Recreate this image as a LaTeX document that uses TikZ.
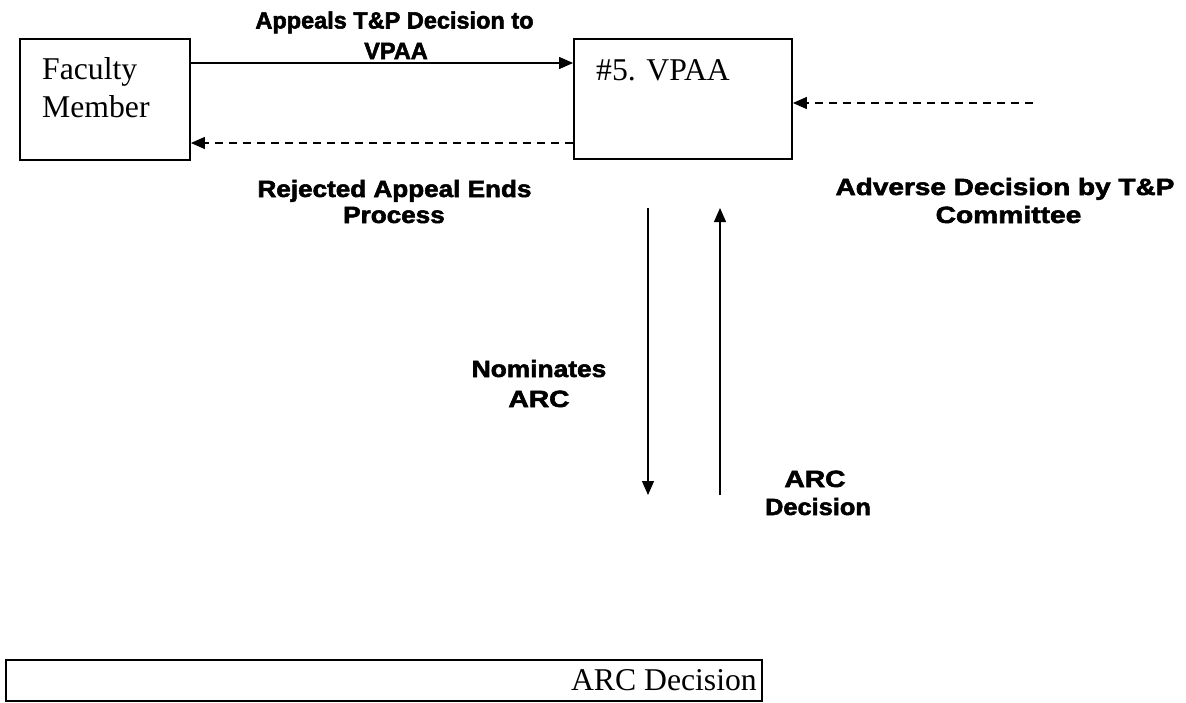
\documentclass[tikz,border=0pt]{standalone}
\usepackage{fontspec}
\setmainfont{Liberation Serif}
\newfontfamily\lblfont[BoldFeatures={FakeBold=2.2}]{Liberation Sans}
\usetikzlibrary{arrows.meta}
\newcommand{\xs}[2]{\scalebox{#1}[1]{#2}}
\begin{document}
\begin{tikzpicture}[x=1pt,y=-1pt,
  boxnode/.style={draw=black, line width=1.8pt, rectangle, inner sep=0pt},
  boxtext/.style={font=\fontsize{31.7}{38}\selectfont, inner sep=0pt, anchor=base west},
  lbl/.style={font=\lblfont\bfseries\fontsize{23.5}{28}\selectfont, inner sep=0pt, anchor=base},
  conn/.style={line width=1.2pt, -{Triangle[length=14pt,width=12pt]}},
  dconn/.style={conn, dash pattern=on 8pt off 6pt}]
\useasboundingbox (0,0) rectangle (1186,702);
% boxes
\node[boxnode, minimum width=170pt, minimum height=121pt] (fac) at (105,99.5) {};
\node[boxnode, minimum width=218pt, minimum height=120pt] (vpaa) at (683,99) {};
\node[boxnode, minimum width=756pt, minimum height=41pt] (arcbox) at (384,680.5) {};
% box texts
\node[boxtext] (factxt1) at (42,79) {Faculty};
\node[boxtext] (factxt2) at (42,117) {Member};
\node[boxtext] (vpaatxt) at (596,80) {\#5. VPAA};
\node[boxtext, anchor=base east] (arctxt) at (757,690) {ARC Decision};
% helper coordinates
\coordinate (r1) at (0,63);
\coordinate (r2) at (0,143);
\coordinate (r3) at (0,103);
\coordinate (advstart) at (1033,103);
\coordinate (ntop) at (648,208);
\coordinate (nbot) at (648,495);
\coordinate (dtop) at (720,208);
\coordinate (dbot) at (720,495);
% connectors
\draw[conn] (fac.east |- r1) -- (vpaa.west |- r1);
\draw[dconn] (vpaa.west |- r2) -- (fac.east |- r2);
\draw[dconn] (advstart) -- (vpaa.east |- r3);
\draw[conn] (ntop) -- (nbot);
\draw[conn] (dbot) -- (dtop);
% labels
\node[lbl] (l1a) at (394.5,28.5) {\xs{1.0}{Appeals T\&P Decision to}};
\node[lbl] (l1b) at (396,59) {\xs{1.0}{VPAA}};
\node[lbl] (l2a) at (394.5,197) {\xs{1.11}{Rejected Appeal Ends}};
\node[lbl] (l2b) at (394,223) {\xs{1.11}{Process}};
\node[lbl] (l3a) at (1005,195) {\xs{1.19}{Adverse Decision by T\&P}};
\node[lbl] (l3b) at (1008.5,223) {\xs{1.2}{Committee}};
\node[lbl] (l4a) at (539,377) {\xs{1.12}{Nominates}};
\node[lbl] (l4b) at (539,407) {\xs{1.2}{ARC}};
\node[lbl] (l5a) at (815,487) {\xs{1.2}{ARC}};
\node[lbl] (l5b) at (818,515) {\xs{1.08}{Decision}};
\end{tikzpicture}
\end{document}
